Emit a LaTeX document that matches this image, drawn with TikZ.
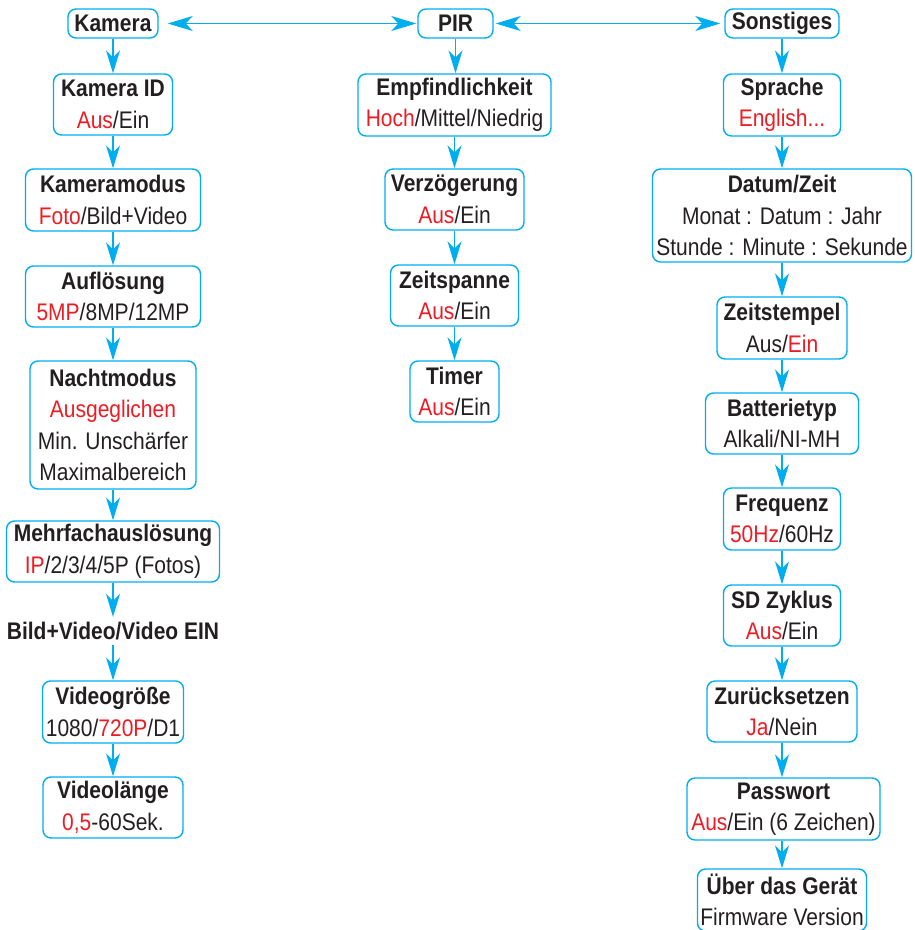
\documentclass[tikz,border=0pt]{standalone}
\usepackage{fontspec}
\setmainfont[FakeStretch=0.875]{Liberation Sans}
\usetikzlibrary{arrows.meta}
\definecolor{cy}{RGB}{0,174,239}
\definecolor{rd}{RGB}{237,28,36}
\definecolor{tx}{RGB}{35,31,32}
\newcommand{\redx}[1]{\textcolor{rd}{#1}}
\begin{document}
\begin{tikzpicture}[x=1pt,y=-1pt,
  box/.style={draw=cy, line width=1.4pt, rounded corners=8pt, align=center, inner sep=0pt, text=tx, font=\fontsize{24}{31.5}\selectfont},
  plain/.style={align=center, inner sep=5pt, text=tx, font=\fontsize{24}{31.5}\selectfont},
  arr/.style={draw=cy, line width=1.4pt, -{Stealth[length=23pt,width=14pt,inset=7pt]}},
  harr/.style={draw=cy, line width=1.4pt, {Stealth[length=25pt,width=15pt,inset=7pt]}-{Stealth[length=25pt,width=15pt,inset=7pt]}}]
\useasboundingbox (0,0) rectangle (914,930);
% column 1
\node[box, minimum width=90, minimum height=29] (kam) at (113,23.5) {\textbf{Kamera}};
\node[box, minimum width=119, minimum height=61] (kid) at (113,104.5) {\textbf{Kamera ID}\\\redx{Aus}/Ein};
\node[box, minimum width=175, minimum height=62] (kmod) at (113,200) {\textbf{Kameramodus}\\\redx{Foto}/Bild+Video};
\node[box, minimum width=175, minimum height=61] (aufl) at (113,296.5) {\textbf{Auflösung}\\\redx{5MP}/8MP/12MP};
\node[box, minimum width=166, minimum height=128] (nacht) at (113,425) {\textbf{Nachtmodus}\\\redx{Ausgeglichen}\\Min. Unschärfer\\Maximalbereich};
\node[box, minimum width=213, minimum height=61] (mehr) at (113,551.5) {\textbf{Mehrfachauslösung}\\\redx{IP}/2/3/4/5P (Fotos)};
\node[plain] (bild) at (113,631) {\textbf{Bild+Video/Video EIN}};
\node[box, minimum width=141, minimum height=62] (vgr) at (113,712) {\textbf{Videogröße}\\1080/\redx{720P}/D1};
\node[box, minimum width=140, minimum height=61] (vlen) at (113,807.5) {\textbf{Videolänge}\\\redx{0,5}-60Sek.};
% column 2
\node[box, minimum width=75, minimum height=29] (pir) at (455.5,23.5) {\textbf{PIR}};
\node[box, minimum width=193, minimum height=62] (empf) at (454.5,105) {\textbf{Empfindlichkeit}\\\redx{Hoch}/Mittel/Niedrig};
\node[box, minimum width=139, minimum height=61] (verz) at (454.5,199.5) {\textbf{Verzögerung}\\\redx{Aus}/Ein};
\node[box, minimum width=128, minimum height=61] (zsp) at (454.5,295.5) {\textbf{Zeitspanne}\\\redx{Aus}/Ein};
\node[box, minimum width=89, minimum height=61] (timer) at (454.5,391.5) {\textbf{Timer}\\\redx{Aus}/Ein};
% column 3
\node[box, minimum width=114, minimum height=29] (sonst) at (782,23.5) {\textbf{Sonstiges}};
\node[box, minimum width=117, minimum height=62] (spr) at (782,105) {\textbf{Sprache}\\\redx{English...}};
\node[box, minimum width=259, minimum height=93] (dat) at (782,215.5) {\textbf{Datum/Zeit}\\Monat : Datum : Jahr\\Stunde : Minute : Sekunde};
\node[box, minimum width=130, minimum height=62] (zst) at (782,328) {\textbf{Zeitstempel}\\Aus/\redx{Ein}};
\node[box, minimum width=153, minimum height=61] (batt) at (782,423.5) {\textbf{Batterietyp}\\Alkali/NI-MH};
\node[box, minimum width=117, minimum height=62] (freq) at (782,519) {\textbf{Frequenz}\\\redx{50Hz}/60Hz};
\node[box, minimum width=117, minimum height=61] (sd) at (782,615.5) {\textbf{SD Zyklus}\\\redx{Aus}/Ein};
\node[box, minimum width=150, minimum height=61] (zur) at (782,711.5) {\textbf{Zurücksetzen}\\\redx{Ja}/Nein};
\node[box, minimum width=193, minimum height=62] (pass) at (783.5,809) {\textbf{Passwort}\\\redx{Aus}/Ein (6 Zeichen)};
\node[box, minimum width=169, minimum height=62] (ueb) at (782,900) {\textbf{Über das Gerät}\\Firmware Version};
% horizontal arrows
\draw[harr, shorten <=9pt, shorten >=1pt] (kam.east) -- (pir.west);
\draw[harr, shorten <=2pt, shorten >=4pt] (pir.east) -- (sonst.west);
% vertical arrows
\foreach \a/\b in {kam/kid, kid/kmod, kmod/aufl, aufl/nacht, nacht/mehr, mehr/bild, bild/vgr, vgr/vlen,
  pir/empf, empf/verz, verz/zsp, zsp/timer,
  sonst/spr, spr/dat, dat/zst, zst/batt, batt/freq, freq/sd, sd/zur, zur/pass}
  \draw[arr] (\a.south) -- (\a.south |- \b.north);
\draw[arr] (pass.south -| ueb.north) -- (ueb.north);
\end{tikzpicture}
\end{document}
